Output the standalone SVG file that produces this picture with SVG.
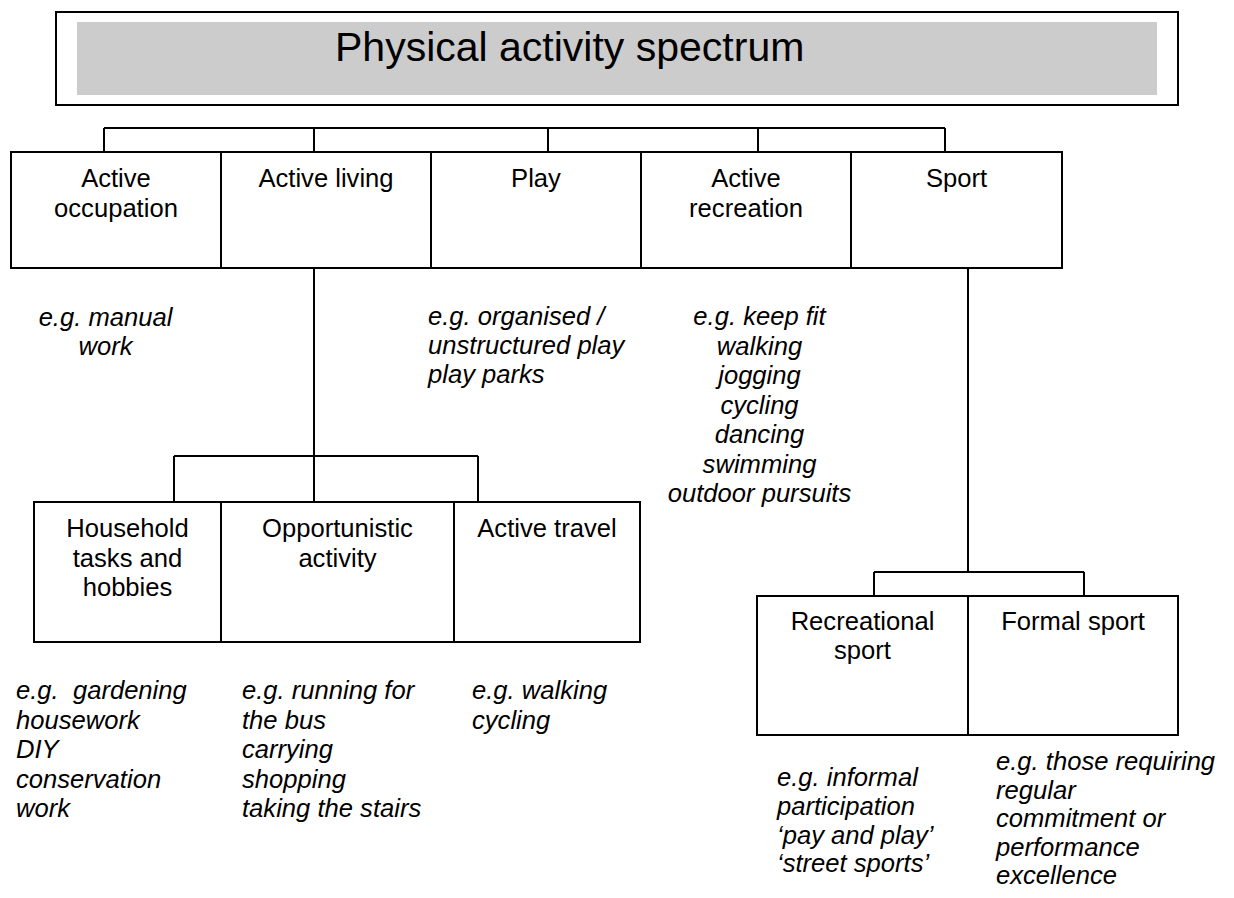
<svg xmlns="http://www.w3.org/2000/svg" width="1234" height="898" viewBox="0 0 1234 898">
<style>
.box{fill:#fff;stroke:#000;stroke-width:2}
.lbl{font-family:"Liberation Sans",Arial,sans-serif;font-size:25.6px;fill:#000;text-anchor:middle}
.eg{font-family:"Liberation Sans",Arial,sans-serif;font-size:25.6px;font-style:italic;fill:#000}
.c{text-anchor:middle}
.conn{fill:none;stroke:#000;stroke-width:2}
</style>
<rect width="1234" height="898" fill="#fff"/>
<g id="title">
<rect x="56" y="12" width="1122" height="93" class="box"/>
<rect x="77" y="22" width="1080" height="73" fill="#cccccc"/>
<text x="335" y="61" font-family="Liberation Sans, Arial, sans-serif" font-size="41" fill="#000">Physical activity spectrum</text>
</g>
<g id="connectors">
<path class="conn" d="M104 128H945M104 128V152M314 128V152M548 128V152M758 128V152M945 128V152"/>
<path class="conn" d="M314 268V456M174 456H478M174 456V502M314 456V502M478 456V502"/>
<path class="conn" d="M968 268V572M874 572H1084M874 572V596M1084 572V596"/>
</g>
<g id="active-occupation">
<rect x="11" y="152" width="210" height="116" class="box"/>
<text class="lbl" x="116" y="187">Active</text>
<text class="lbl" x="116" y="217">occupation</text>
</g>
<g id="active-living">
<rect x="221" y="152" width="210" height="116" class="box"/>
<text class="lbl" x="326" y="187">Active living</text>
</g>
<g id="play">
<rect x="431" y="152" width="210" height="116" class="box"/>
<text class="lbl" x="536" y="187">Play</text>
</g>
<g id="active-recreation">
<rect x="641" y="152" width="210" height="116" class="box"/>
<text class="lbl" x="746" y="187">Active</text>
<text class="lbl" x="746" y="217">recreation</text>
</g>
<g id="sport">
<rect x="851" y="152" width="211" height="116" class="box"/>
<text class="lbl" x="956.5" y="187">Sport</text>
</g>
<g id="household">
<rect x="34" y="502" width="187" height="140" class="box"/>
<text class="lbl" x="127.5" y="537">Household</text>
<text class="lbl" x="127.5" y="566.5">tasks and</text>
<text class="lbl" x="127.5" y="596">hobbies</text>
</g>
<g id="opportunistic">
<rect x="221" y="502" width="233" height="140" class="box"/>
<text class="lbl" x="337.5" y="537">Opportunistic</text>
<text class="lbl" x="337.5" y="566.5">activity</text>
</g>
<g id="active-travel">
<rect x="454" y="502" width="186" height="140" class="box"/>
<text class="lbl" x="547" y="537">Active travel</text>
</g>
<g id="recreational-sport">
<rect x="757" y="596" width="211" height="139" class="box"/>
<text class="lbl" x="862.5" y="630">Recreational</text>
<text class="lbl" x="862.5" y="659">sport</text>
</g>
<g id="formal-sport">
<rect x="968" y="596" width="210" height="139" class="box"/>
<text class="lbl" x="1073" y="630">Formal sport</text>
</g>
<g id="examples">
<text class="eg c" x="105.5" y="326">e.g. manual</text>
<text class="eg c" x="105.5" y="354.5">work</text>
<text class="eg" x="428" y="325">e.g. organised /</text>
<text class="eg" x="428" y="354">unstructured play</text>
<text class="eg" x="428" y="383">play parks</text>
<text class="eg c" x="759.5" y="325">e.g. keep fit</text>
<text class="eg c" x="759.5" y="354.5">walking</text>
<text class="eg c" x="759.5" y="384">jogging</text>
<text class="eg c" x="759.5" y="413.5">cycling</text>
<text class="eg c" x="759.5" y="443">dancing</text>
<text class="eg c" x="759.5" y="472.5">swimming</text>
<text class="eg c" x="759.5" y="502">outdoor pursuits</text>
<text class="eg" x="16" y="699" xml:space="preserve">e.g.  gardening</text>
<text class="eg" x="16" y="728.5">housework</text>
<text class="eg" x="16" y="758">DIY</text>
<text class="eg" x="16" y="787.5">conservation</text>
<text class="eg" x="16" y="817">work</text>
<text class="eg" x="242" y="699">e.g. running for</text>
<text class="eg" x="242" y="728.5">the bus</text>
<text class="eg" x="242" y="758">carrying</text>
<text class="eg" x="242" y="787.5">shopping</text>
<text class="eg" x="242" y="817">taking the stairs</text>
<text class="eg" x="472" y="699">e.g. walking</text>
<text class="eg" x="472" y="728.5">cycling</text>
<text class="eg" x="777" y="786">e.g. informal</text>
<text class="eg" x="777" y="815">participation</text>
<text class="eg" x="777" y="844">‘pay and play’</text>
<text class="eg" x="777" y="872">‘street sports’</text>
<text class="eg" x="996" y="770">e.g. those requiring</text>
<text class="eg" x="996" y="798.5">regular</text>
<text class="eg" x="996" y="827">commitment or</text>
<text class="eg" x="996" y="855.5">performance</text>
<text class="eg" x="996" y="884">excellence</text>
</g>
</svg>
